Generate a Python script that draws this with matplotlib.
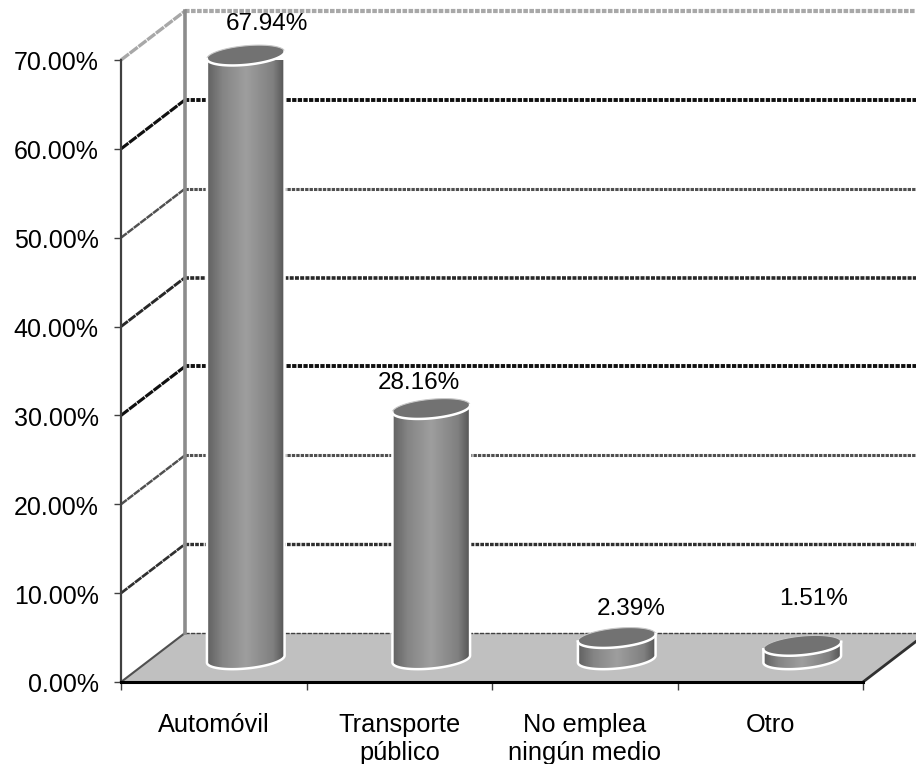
import matplotlib
matplotlib.use("Agg")
import matplotlib.pyplot as plt
import numpy as np
from matplotlib.patches import Polygon
from matplotlib.transforms import ScaledTranslation

plt.rcParams['font.family'] = ['Liberation Sans', 'DejaVu Sans']

# values
categories = ['Automóvil', 'Transporte\npúblico', 'No emplea\nningún medio', 'Otro']
values = [67.94, 28.16, 2.39, 1.51]
value_labels = ['67.94%', '28.16%', '2.39%', '1.51%']
y_ticks = [0, 10, 20, 30, 40, 50, 60, 70]

# label shift from the top of each bar, in pixels (x, y), y goes down
label_shift = [(21, -31), (-12, -26), (14, -29), (11, -47)]

# how each gridline looks on the walls, 10% up to 70%
grid_colors = ['#303030', '#505050', '#101010', '#282828', '#505050', '#101010', '#a8a8a8']
grid_widths = [2.4, 2.2, 2.8, 2.6, 2.2, 2.8, 3.0]

W, H = 916, 764
fig = plt.figure(figsize=(W / 100, H / 100), dpi=100)
ax = fig.add_axes([121 / W, (H - 682) / H, 742 / W, 622 / H])
ax.set_xlim(0, 4)
ax.set_ylim(0, 70)

# pixels per data unit
sx = 742 / 4
sy = 622 / 70
# depth of the 3d box
dx = 64 / sx
dy = 49 / sy


def ellipse_pts(cx, cy, t, a=39, b=9.5, tilt=5.5):
    th = np.radians(tilt)
    ex = a * np.cos(t)
    ey = b * np.sin(t)
    px = ex * np.cos(th) - ey * np.sin(th)
    py = ex * np.sin(th) + ey * np.cos(th)
    return np.column_stack([cx + px / sx, cy + py / sy])


def draw_cylinder(ax, cx, base, top):
    t_all = np.linspace(0, 2 * np.pi, 120)
    t_low = np.linspace(np.pi, 2 * np.pi, 60)
    low = ellipse_pts(cx, base, t_low)
    top_l = ellipse_pts(cx, top, np.array([np.pi]))
    top_r = ellipse_pts(cx, top, np.array([0.0]))
    body = np.vstack([top_l, low, top_r])

    # body shading, dark at the edges
    shade = np.interp(np.linspace(0, 1, 200), [0, 0.2, 0.5, 0.85, 1],
                      [0.38, 0.52, 0.62, 0.5, 0.33]).reshape(1, -1)
    im = ax.imshow(shade, cmap='gray', vmin=0, vmax=1, aspect='auto', zorder=4,
                   interpolation='bilinear',
                   extent=[cx - 39 / sx, cx + 39 / sx, base - 12 / sy, top + 12 / sy])
    clip = Polygon(body, closed=True, transform=ax.transData, fc='none', ec='none')
    ax.add_patch(clip)
    im.set_clip_path(clip)
    ax.plot(body[:, 0], body[:, 1], color='white', lw=1.8, zorder=5, clip_on=False)

    lid = ellipse_pts(cx, top, t_all)
    ax.add_patch(Polygon(lid, closed=True, fc='#727272', ec='none', zorder=6, clip_on=False))
    ax.plot(lid[:, 0], lid[:, 1], color='#c8c8c8', lw=0.8, zorder=6, clip_on=False)
    lid_low = ellipse_pts(cx, top, t_low)
    ax.plot(lid_low[:, 0], lid_low[:, 1], color='white', lw=1.8, zorder=7, clip_on=False)


# floor
floor = [(0, 0), (4, 0), (4 + dx, dy), (dx, dy)]
ax.add_patch(Polygon(floor, closed=True, fc='#c0c0c0', ec='none', zorder=1, clip_on=False))
ax.plot([4, 4 + dx], [0, dy], color='#303030', lw=2, zorder=2, clip_on=False)
ax.plot([dx, 4 + dx], [dy, dy], color='#404040', lw=1, ls=(0, (3, 1)), zorder=2, clip_on=False)
ax.plot([0, dx], [0, dy], color='#505050', lw=1.5, zorder=2, clip_on=False)

# walls and gridlines
for v, c, w in zip(y_ticks[1:], grid_colors, grid_widths):
    ax.plot([dx, 4 + dx], [v + dy, v + dy], color=c, lw=w, ls=(0, (1.1, 0.35)), zorder=2, clip_on=False)
    ax.plot([0, dx], [v, v + dy], color=c, lw=w * 0.8, ls=(0, (3, 0.3)), zorder=2, clip_on=False)
ax.plot([dx, dx], [dy, 70 + dy], color='#8c8c8c', lw=2.6, zorder=3, clip_on=False)

# the bars
for i, v in enumerate(values):
    cx = i + 0.5 + dx / 2
    base = dy / 2 - 1.5 / sy
    draw_cylinder(ax, cx, base, base + v)
    ax.text(cx + label_shift[i][0] / sx, base + v - label_shift[i][1] / sy, value_labels[i],
            ha='center', va='center', fontsize=17.5, color='black', zorder=8, clip_on=False)

# axes
for s in ['top', 'right']:
    ax.spines[s].set_visible(False)
ax.patch.set_visible(False)
ax.spines['left'].set_color('#404040')
ax.spines['left'].set_linewidth(1.6)
ax.spines['bottom'].set_color('black')
ax.spines['bottom'].set_linewidth(2.2)
ax.spines['left'].set_zorder(3)
ax.spines['bottom'].set_zorder(3)

ax.set_yticks(y_ticks)
ax.set_yticklabels(['%.2f%%' % v for v in y_ticks], fontsize=18)
ax.tick_params(axis='y', length=5, width=1, color='#404040', pad=11)
nudge = ScaledTranslation(0, -1 / 100, fig.dpi_scale_trans)
for lbl in ax.get_yticklabels():
    lbl.set_transform(lbl.get_transform() + nudge)
ax.set_xticks(range(5))
ax.set_xticklabels([])
ax.tick_params(axis='x', which='major', length=6, width=1, color='#404040')
ax.set_xticks([i + 0.5 for i in range(4)], minor=True)
ax.set_xticklabels(categories, minor=True, fontsize=18.3, linespacing=1.25)
ax.tick_params(axis='x', which='minor', length=0, pad=22)

fig.savefig('out.png', dpi=100)
